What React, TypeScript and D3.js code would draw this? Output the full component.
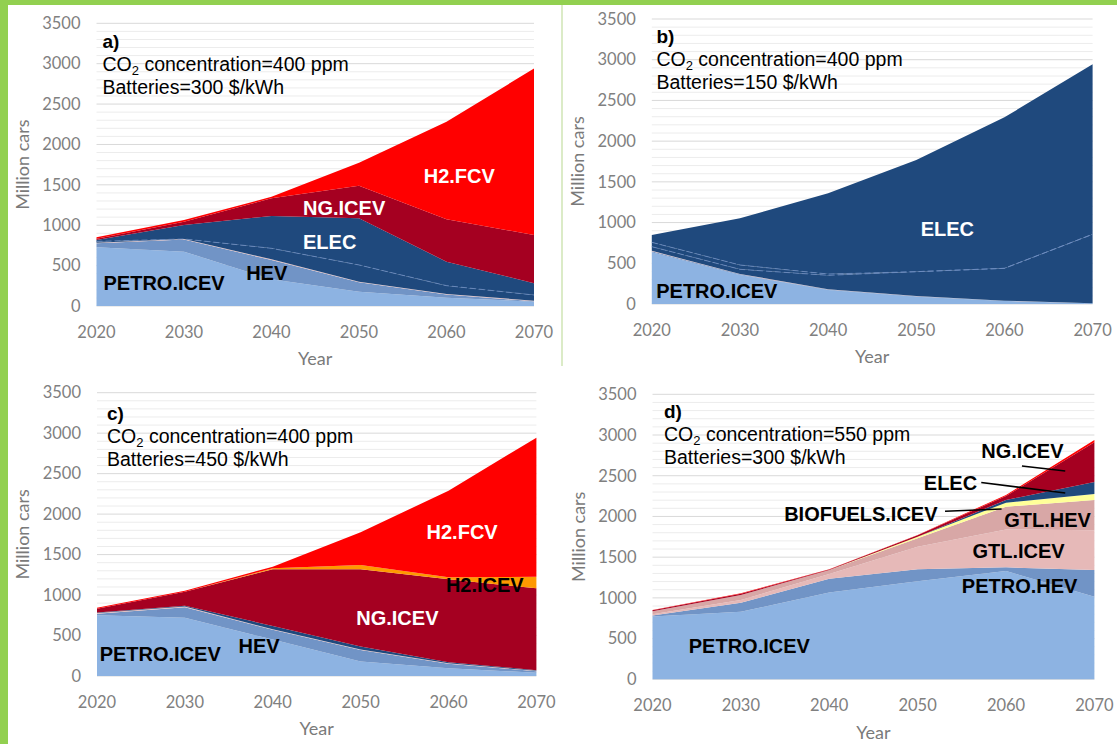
import React from 'react';
import * as d3 from 'd3';

const YEARS = [2020, 2030, 2040, 2050, 2060, 2070];
const Y_TICKS = [0, 500, 1000, 1500, 2000, 2500, 3000, 3500];
const X_TICKS = [2020, 2030, 2040, 2050, 2060, 2070];

// Panel a) CO2 400 ppm, batteries 300 $/kWh
const A_PETRO_ICEV = [726, 673, 330, 177, 103, 54];
const A_HEV = [50, 149, 240, 116, 38, 4];
const A_GTL = [8, 8, 8, 8, 8, 8];
const A_PHEV = [16, 0, 136, 207, 103, 70];
const A_ELEC = [17, 173, 400, 577, 297, 145];
const A_NG_ICEV = [17, 41, 219, 405, 524, 598];
const A_H2_FCV = [16, 21, 19, 285, 1207, 2061];

// Panel b) CO2 400 ppm, batteries 150 $/kWh
const B_PETRO_ICEV = [635, 356, 172, 90, 37, 8];
const B_HEV = [12, 8, 6, 4, 2, 1];
const B_GTL = [6, 5, 4, 3, 2, 1];
const B_PHEV1 = [51, 57, 170, 300, 397, 846];
const B_PHEV2 = [53, 53, 16, 0, 0, 0];
const B_ELEC = [90, 573, 991, 1372, 1855, 2088];

// Panel c) CO2 400 ppm, batteries 450 $/kWh
const C_PETRO_ICEV = [750, 720, 450, 180, 95, 40];
const C_HEV = [20, 130, 120, 140, 55, 20];
const C_GTL = [8, 8, 8, 8, 6, 4];
const C_ELEC = [5, 10, 40, 35, 15, 8];
const C_NG_ICEV = [49, 174, 702, 955, 1023, 1011];
const C_H2_ICEV = [0, 0, 10, 53, 25, 144];
const C_H2_FCV = [12, 12, 21, 404, 1071, 1717];

// Panel d) CO2 550 ppm, batteries 300 $/kWh
const D_PETRO_ICEV = [770, 830, 1065, 1205, 1330, 1015];
const D_PETRO_HEV = [15, 111, 170, 145, 45, 327];
const D_GTL_ICEV = [15, 33, 59, 279, 465, 488];
const D_GTL_HEV = [35, 62, 49, 103, 280, 372];
const D_BIOFUELS_ICEV = [0, 0, 0, 20, 49, 75];
const D_ELEC = [0, 0, 0, 0, 33, 145];
const D_NG_ICEV = [12, 15, 5, 18, 48, 490];
const D_H2_FCV = [5, 5, 3, 3, 14, 28];

const C = {
  petro: '#8db3e2',
  hev: '#7194c6',
  gtl: '#e6b9b8',
  gtlhev: '#d8a7a6',
  elec: '#1f497d',
  ng: '#a50021',
  h2fcv: '#ff0000',
  h2icev: '#ff9900',
  bio: '#ffff99',
  green: '#92d050',
};

const LABEL_FONT = '"Liberation Sans", Arial, sans-serif';
const AXIS_FONT = 'Lato, "Open Sans", sans-serif';

type Series = { key: string; values: number[]; color: string; dashTop?: boolean };
type Label = { text: string; year: number; value: number; color: string };
type Leader = { y1: number; v1: number; y2: number; v2: number };
type PanelCfg = {
  letter: string;
  co2: string;
  batt: string;
  x0: number; x1: number; yT: number; yB: number;
  titleX: number; titleY: number;
  series: Series[];
  labels: Label[];
  leaders?: Leader[];
};

const PANELS: PanelCfg[] = [
  {
    letter: 'a)', co2: '400', batt: '300',
    x0: 96.5, x1: 534, yT: 23.3, yB: 306, titleX: 102.5, titleY: 48,
    series: [
      { key: 'PETRO.ICEV', values: A_PETRO_ICEV, color: C.petro },
      { key: 'HEV', values: A_HEV, color: C.hev },
      { key: 'GTL', values: A_GTL, color: C.gtl },
      { key: 'PHEV', values: A_PHEV, color: C.elec, dashTop: true },
      { key: 'ELEC', values: A_ELEC, color: C.elec },
      { key: 'NG.ICEV', values: A_NG_ICEV, color: C.ng },
      { key: 'H2.FCV', values: A_H2_FCV, color: C.h2fcv },
    ],
    labels: [
      { text: 'PETRO.ICEV', year: 2020.8, value: 198, color: '#000' },
      { text: 'HEV', year: 2037.1, value: 322, color: '#000' },
      { text: 'ELEC', year: 2043.6, value: 706, color: '#fff' },
      { text: 'NG.ICEV', year: 2043.6, value: 1127, color: '#fff' },
      { text: 'H2.FCV', year: 2057.4, value: 1523, color: '#fff' },
    ],
  },
  {
    letter: 'b)', co2: '400', batt: '150',
    x0: 651.8, x1: 1092.6, yT: 19, yB: 304, titleX: 656.4, titleY: 43,
    series: [
      { key: 'PETRO.ICEV', values: B_PETRO_ICEV, color: C.petro },
      { key: 'HEV', values: B_HEV, color: C.hev },
      { key: 'GTL', values: B_GTL, color: C.gtl },
      { key: 'PHEV1', values: B_PHEV1, color: C.elec, dashTop: true },
      { key: 'PHEV2', values: B_PHEV2, color: C.elec, dashTop: true },
      { key: 'ELEC', values: B_ELEC, color: C.elec },
    ],
    labels: [
      { text: 'ELEC', year: 2050.5, value: 835, color: '#fff' },
      { text: 'PETRO.ICEV', year: 2020.5, value: 74, color: '#000' },
    ],
  },
  {
    letter: 'c)', co2: '400', batt: '450',
    x0: 97, x1: 536.4, yT: 392.7, yB: 676, titleX: 107, titleY: 420,
    series: [
      { key: 'PETRO.ICEV', values: C_PETRO_ICEV, color: C.petro },
      { key: 'HEV', values: C_HEV, color: C.hev },
      { key: 'GTL', values: C_GTL, color: C.gtl },
      { key: 'ELEC', values: C_ELEC, color: C.elec },
      { key: 'NG.ICEV', values: C_NG_ICEV, color: C.ng },
      { key: 'H2.ICEV', values: C_H2_ICEV, color: C.h2icev },
      { key: 'H2.FCV', values: C_H2_FCV, color: C.h2fcv },
    ],
    labels: [
      { text: 'H2.FCV', year: 2057.5, value: 1692, color: '#fff' },
      { text: 'H2.ICEV', year: 2059.7, value: 1038, color: '#000' },
      { text: 'NG.ICEV', year: 2049.5, value: 630, color: '#fff' },
      { text: 'HEV', year: 2036.1, value: 284, color: '#000' },
      { text: 'PETRO.ICEV', year: 2020.3, value: 189, color: '#000' },
    ],
  },
  {
    letter: 'd)', co2: '550', batt: '300',
    x0: 652.5, x1: 1094.4, yT: 394.3, yB: 679.3, titleX: 664, titleY: 418,
    series: [
      { key: 'PETRO.ICEV', values: D_PETRO_ICEV, color: C.petro },
      { key: 'PETRO.HEV', values: D_PETRO_HEV, color: C.hev },
      { key: 'GTL.ICEV', values: D_GTL_ICEV, color: C.gtl },
      { key: 'GTL.HEV', values: D_GTL_HEV, color: C.gtlhev },
      { key: 'BIOFUELS.ICEV', values: D_BIOFUELS_ICEV, color: C.bio },
      { key: 'ELEC', values: D_ELEC, color: C.elec },
      { key: 'NG.ICEV', values: D_NG_ICEV, color: C.ng },
      { key: 'H2.FCV', values: D_H2_FCV, color: C.h2fcv },
    ],
    labels: [
      { text: 'NG.ICEV', year: 2057.2, value: 2718, color: '#000' },
      { text: 'ELEC', year: 2050.7, value: 2325, color: '#000' },
      { text: 'BIOFUELS.ICEV', year: 2034.9, value: 1948, color: '#000' },
      { text: 'GTL.HEV', year: 2059.8, value: 1874, color: '#000' },
      { text: 'GTL.ICEV', year: 2056.2, value: 1490, color: '#000' },
      { text: 'PETRO.HEV', year: 2055.0, value: 1063, color: '#000' },
      { text: 'PETRO.ICEV', year: 2024.1, value: 327, color: '#000' },
    ],
    leaders: [
      { y1: 2061.8, v1: 2619, y2: 2066.7, v2: 2558 },
      { y1: 2057.2, v1: 2417, y2: 2066.7, v2: 2288 },
      { y1: 2053.1, v1: 2063, y2: 2059.5, v2: 2091 },
    ],
  },
];

function Panel({ p }: { p: PanelCfg }) {
  const x = d3.scaleLinear().domain([2020, 2070]).range([p.x0, p.x1]);
  const y = d3.scaleLinear().domain([0, 3500]).range([p.yB, p.yT]);
  const rows = YEARS.map((yr, i) => {
    const r: any = { year: yr };
    p.series.forEach((s) => (r[s.key] = s.values[i]));
    return r;
  });
  const layers = d3.stack<any>().keys(p.series.map((s) => s.key))(rows);
  const area = d3
    .area<any>()
    .x((d) => x(d.data.year))
    .y0((d) => y(d[0]))
    .y1((d) => y(d[1]));
  const topLine = d3
    .line<any>()
    .x((d) => x(d.data.year))
    .y((d) => y(d[1]));
  const minor = d3.range(100, 3501, 100).filter((v) => v % 500 !== 0);
  const midX = (p.x0 + p.x1) / 2;
  const midY = (p.yT + p.yB) / 2;
  return (
    <g>
      {minor.map((v) => (
        <line key={'m' + v} x1={p.x0} x2={p.x1} y1={y(v)} y2={y(v)} stroke="#ececec" strokeWidth={1} />
      ))}
      {Y_TICKS.map((v) => (
        <line key={'g' + v} x1={p.x0} x2={p.x1} y1={y(v)} y2={y(v)} stroke="#d9d9d9" strokeWidth={1} />
      ))}
      {layers.map((layer, i) => (
        <path key={layer.key} d={area(layer) || ''} fill={p.series[i].color} stroke="none" />
      ))}
      {layers.map((layer, i) =>
        p.series[i].dashTop ? (
          <path
            key={'t' + layer.key}
            d={topLine(layer) || ''}
            fill="none"
            stroke="#6d8cc0"
            strokeWidth={1}
            strokeDasharray="6,3"
            opacity={0.8}
          />
        ) : null
      )}
      {Y_TICKS.map((v) => (
        <text
          key={'yt' + v}
          x={p.x0 - 16}
          y={y(v)}
          dy="0.35em"
          textAnchor="end"
          fontFamily={AXIS_FONT}
          fontSize={16.5}
          fill="#808080"
        >
          {v}
        </text>
      ))}
      {X_TICKS.map((v) => (
        <text
          key={'xt' + v}
          x={x(v)}
          y={p.yB + 26}
          dy="0.35em"
          textAnchor="middle"
          fontFamily={AXIS_FONT}
          fontSize={16.5}
          fill="#808080"
        >
          {v}
        </text>
      ))}
      <text x={midX} y={p.yB + 53} dy="0.35em" textAnchor="middle" fontFamily={AXIS_FONT} fontSize={18} fill="#7a7a7a">
        Year
      </text>
      <text
        transform={`translate(${p.x0 - 74},${midY}) rotate(-90)`}
        textAnchor="middle"
        dy="0.35em"
        fontFamily={AXIS_FONT}
        fontSize={18}
        fill="#7a7a7a"
      >
        Million cars
      </text>
      <text x={p.titleX} y={p.titleY} fontFamily={LABEL_FONT} fontWeight="bold" fontSize={19} fill="#000">
        {p.letter}
      </text>
      <text x={p.titleX} y={p.titleY + 23} fontFamily={LABEL_FONT} fontSize={19.5} fill="#000">
        CO
        <tspan fontSize={13} dy={4}>
          2
        </tspan>
        <tspan dy={-4}>{` concentration=${p.co2} ppm`}</tspan>
      </text>
      <text x={p.titleX} y={p.titleY + 46} fontFamily={LABEL_FONT} fontSize={19.5} fill="#000">
        {`Batteries=${p.batt} $/kWh`}
      </text>
      {(p.leaders || []).map((l, i) => (
        <line key={'ld' + i} x1={x(l.y1)} y1={y(l.v1)} x2={x(l.y2)} y2={y(l.v2)} stroke="#000" strokeWidth={1.6} />
      ))}
      {p.labels.map((l) => (
        <text
          key={'lb' + l.text}
          x={x(l.year)}
          y={y(l.value)}
          fontFamily={LABEL_FONT}
          fontWeight="bold"
          fontSize={20}
          fill={l.color}
        >
          {l.text}
        </text>
      ))}
    </g>
  );
}

export default function App() {
  return (
    <svg
      width={1117}
      height={744}
      viewBox="0 0 1117 744"
      style={{ position: 'absolute', left: 0, top: 0, background: '#fff' }}
    >
      <rect x={0} y={0} width={1117} height={744} fill="#fff" />
      {PANELS.map((p) => (
        <Panel key={p.letter} p={p} />
      ))}
      <rect x={0} y={0} width={1117} height={5} fill={C.green} />
      <rect x={0} y={0} width={8} height={744} fill={C.green} />
      <line x1={562} x2={562} y1={5} y2={366} stroke="#cfe5b5" strokeWidth={1.5} />
    </svg>
  );
}
